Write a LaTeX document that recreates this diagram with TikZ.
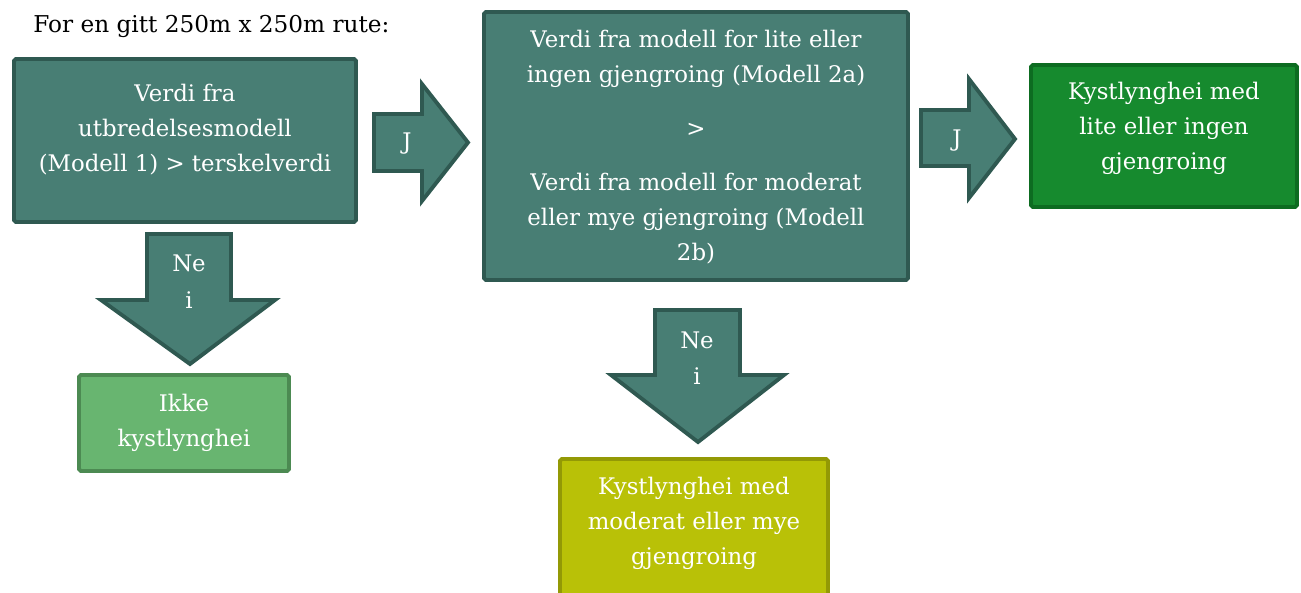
\documentclass[tikz,border=0pt]{standalone}
\usepackage{fontspec}
\setmainfont{DejaVu Serif}
\usepackage{xcolor}
\usepackage{tikz}
\usetikzlibrary{positioning}

\definecolor{tealfill}{RGB}{72,126,116}
\definecolor{tealline}{RGB}{47,89,81}
\definecolor{litefill}{RGB}{22,138,46}
\definecolor{liteline}{RGB}{13,108,33}
\definecolor{ikkefill}{RGB}{104,181,112}
\definecolor{ikkeline}{RGB}{76,138,82}
\definecolor{modfill}{RGB}{185,193,7}
\definecolor{modline}{RGB}{147,153,5}

\begin{document}
\begin{tikzpicture}[
    x=0.02cm, y=-0.02cm,
    box/.style={draw, line width=2.2pt, rounded corners=1pt, inner sep=0pt},
    teal box/.style={box, fill=tealfill, draw=tealline},
    block arrow/.style={fill=tealfill, draw=tealline, line width=2.2pt},
    box text/.style={text=white, align=center, inner sep=0pt,
        font=\fontsize{13}{19.9}\selectfont}
]
\clip (0,0) rectangle (1301,592);

\node[anchor=west, inner sep=0pt, font=\fontsize{13.2}{16}\selectfont] (title) at (33,26) {For en gitt 250m x 250m rute:};

% boxes
\node[teal box, minimum width=6.84cm, minimum height=3.26cm] (modell1) at (185,140.5) {};
\node[teal box, minimum width=8.48cm, minimum height=5.36cm] (modell2) at (696,146) {};
\node[box, fill=litefill, draw=liteline, minimum width=5.32cm, minimum height=2.84cm] (lite) at (1164,136) {};
\node[box, fill=ikkefill, draw=ikkeline, minimum width=4.2cm, minimum height=1.92cm] (ikke) at (184,423) {};
\node[box, fill=modfill, draw=modline, minimum width=5.36cm, minimum height=3.22cm] (moderat) at (694,539.5) {};

\node[box text] (modell1 txt) at (185,130) {Verdi fra\\utbredelsesmodell\\(Modell 1) > terskelverdi};
\node[box text] (modell2 txt) at (696,147) {Verdi fra modell for lite eller\\ingen gjengroing (Modell 2a)\\[11pt]>\\[11pt]Verdi fra modell for moderat\\eller mye gjengroing (Modell\\2b)};
\node[box text] (lite txt) at (1164,128) {Kystlynghei med\\lite eller ingen\\gjengroing};
\node[box text] (ikke txt) at (184,423) {Ikke\\kystlynghei};
\node[box text] (moderat txt) at (694,523) {Kystlynghei med\\moderat eller mye\\gjengroing};

% block arrows
\draw[block arrow] (374,114) -- (422,114) -- (422,84) -- (468,142.5) -- (422,201) -- (422,171) -- (374,171) -- cycle;
\draw[block arrow] (921,110) -- (969,110) -- (969,79) -- (1015,139) -- (969,198) -- (969,166) -- (921,166) -- cycle;
\draw[block arrow] (147,234) -- (231,234) -- (231,300) -- (275,300) -- (190,364) -- (101,300) -- (147,300) -- cycle;
\draw[block arrow] (655,310) -- (740,310) -- (740,375) -- (784,375) -- (698,442) -- (611,375) -- (655,375) -- cycle;

\node[box text] (ja1) at (407,144) {J};
\node[box text] (ja2) at (957,141) {J};
\node[box text, font=\fontsize{13}{20.8}\selectfont] (nei1) at (189,281.5) {Ne\\i};
\node[box text, font=\fontsize{13}{20.8}\selectfont] (nei2) at (697,358) {Ne\\i};
\end{tikzpicture}
\end{document}
